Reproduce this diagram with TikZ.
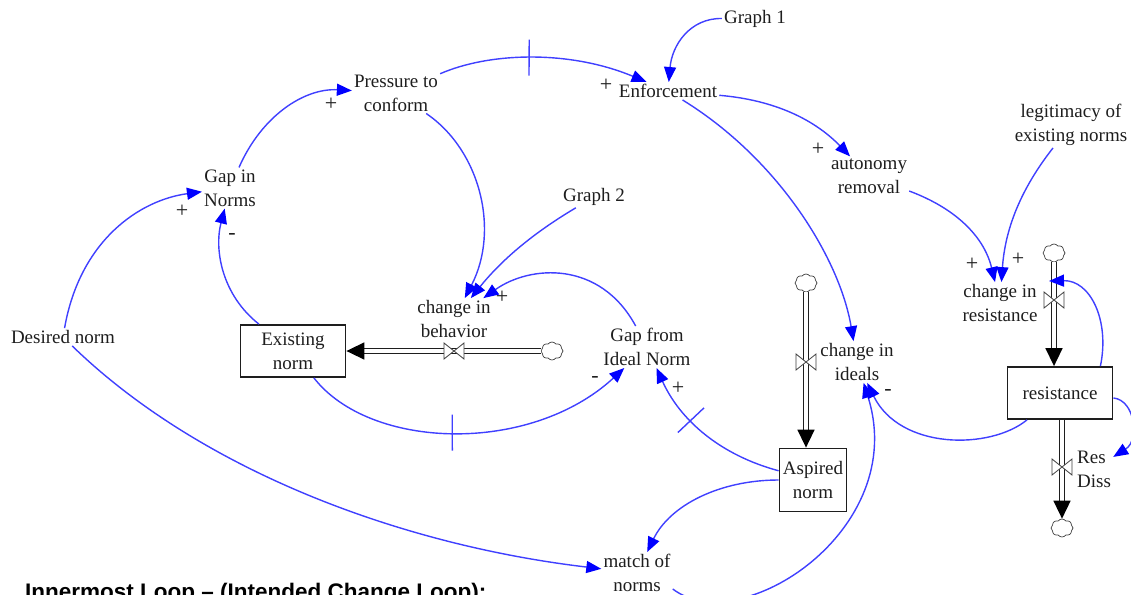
\documentclass[tikz,border=0pt]{standalone}
\usepackage{fontspec}
\setmainfont{Liberation Serif}
\newfontfamily\headfont{Liberation Sans}
\usetikzlibrary{arrows.meta,shapes.symbols,decorations.markings,calc}
\definecolor{lnk}{RGB}{64,64,255}
\definecolor{tipc}{RGB}{0,0,255}
\definecolor{ink}{RGB}{30,30,30}
\begin{document}
\begin{tikzpicture}[x=1pt,y=-1pt,
  var/.style={font=\fontsize{19}{24}\selectfont, text=ink, align=center, inner sep=2pt},
  stock/.style={var, draw=ink, line width=1.8pt, inner sep=0pt, fill=white},
  link/.style={draw=lnk, line width=1.4pt, -{Triangle[length=15pt,width=12pt,color=tipc]}},
  pol/.style={font=\fontsize{22}{22}\selectfont, text=ink, inner sep=0pt},
  pipe/.style={draw=ink, line width=1.6pt, double=white, double distance=3.6pt, -{Triangle[length=18pt,width=17pt,color=black]}},
  sink/.style={cloud, cloud puffs=8, cloud puff arc=110, aspect=1.2, draw=black!75, fill=white, line width=0.7pt, minimum width=22pt, minimum height=18pt, inner sep=0pt},
  valve/.pic={\draw[fill=white, draw=black!75, line width=0.8pt] (-10,-8) -- (10,8) -- (10,-8) -- (-10,8) -- cycle;},
  delay/.style={postaction={decorate, decoration={markings, mark=at position #1 with {\draw[lnk, line width=1.4pt, -] (0,-18) -- (0,18);}}}},
]
\useasboundingbox[fill=white] (0,0) rectangle (1131,594);

% variables
\node[var] (g1) at (755,19) {Graph 1};
\node[var] (press) at (396,93) {Pressure to\\conform};
\node[var] (enf) at (668,91) {Enforcement};
\node[var] (gapn) at (230,188) {Gap in\\Norms};
\node[var] (g2) at (594,197) {Graph 2};
\node[var] (auto) at (869,176) {autonomy\\removal};
\node[var] (legit) at (1071,125) {legitimacy of\\existing norms};
\node[var] (chb) at (454,319) {change in\\behavior};
\node[var] (des) at (63,337) {Desired norm};
\node[var] (gapi) at (647,347) {Gap from\\Ideal Norm};
\node[var] (chi) at (857,362) {change in\\ideals};
\node[var] (chr) at (1000,303) {change in\\resistance};
\node[var, align=left, anchor=west] (rd) at (1075,469) {Res\\Diss};
\node[var] (match) at (637,573) {match of\\norms};

% stocks
\node[stock, minimum width=105pt, minimum height=52pt] (exist) at (293,351) {Existing\\norm};
\node[stock, minimum width=105pt, minimum height=52pt] (res) at (1060,393) {resistance};
\node[stock, minimum width=67pt, minimum height=63pt] (asp) at (813,480) {Aspired\\norm};

% clouds
\node[sink] (cl1) at (552,351) {};
\node[sink] (cl2) at (806,283) {};
\node[sink] (cl3) at (1054,253) {};
\node[sink] (cl4) at (1062,528) {};

% pipes
\draw[pipe] (cl1) -- (exist);
\draw[pipe] (cl2) -- (cl2 |- asp.north);
\draw[pipe] (cl3) -- (cl3 |- res.north);
\draw[pipe] (cl4 |- res.south) -- (cl4);
\pic at (454,351) {valve};
\pic at (806,362) {valve};
\pic at (1054,300) {valve};
\pic at (1062,467) {valve};
\coordinate (v3in) at (1049,281);

% links
\draw[link] (gapn) .. controls (262,115) and (305,88) .. (press);
\draw[link, delay=0.43] (press) .. controls (490,52) and (570,50) .. (enf);
\draw[link] (g1) .. controls (690,18) and (672,45) .. (enf);
\draw[link] (enf) .. controls (775,100) and (815,120) .. (auto);
\draw[link] (enf) .. controls (780,160) and (840,260) .. (chi);
\draw[link] (press) .. controls (480,150) and (500,230) .. (chb);
\draw[link] (g2) .. controls (530,235) and (500,262) .. (chb);
\draw[link] (gapi) .. controls (600,260) and (530,265) .. (chb);
\draw[link] (exist) .. controls (222,295) and (214,250) .. (gapn);
\draw[link] (des) .. controls (80,240) and (140,200) .. (gapn);
\draw[link] (des) .. controls (200,470) and (400,545) .. (match);
\draw[link, delay=0.45] (exist) .. controls (370,450) and (530,455) .. (gapi);
\draw[link, delay=0.62] (asp) .. controls (720,455) and (680,420) .. (gapi);
\draw[link] (asp) .. controls (720,480) and (670,505) .. (match);
\draw[link] ([yshift=5pt]match.south east) .. controls (740,640) and (910,530) .. (chi);
\draw[link] (res) .. controls (990,450) and (900,450) .. (chi);
\draw[link] (auto) .. controls (960,210) and (985,240) .. (chr);
\draw[link] (legit) .. controls (1020,190) and (1005,230) .. (chr);
\draw[link] ([xshift=-13pt]res.north east) .. controls (1110,320) and (1090,280) .. (v3in);
\draw[link] (res) .. controls (1135,400) and (1140,440) .. (rd);

% polarities
\node[pol] (p1) at (331,104) {+};
\node[pol] (p2) at (606,85) {+};
\node[pol] (p3) at (818,149) {+};
\node[pol] (p4) at (502,297) {+};
\node[pol] (p5) at (232,236) {-};
\node[pol] (p6) at (182,211) {+};
\node[pol] (p7) at (595,379) {-};
\node[pol] (p8) at (678,388) {+};
\node[pol] (p9) at (888,392) {-};
\node[pol] (p10) at (972,264) {+};
\node[pol] (p11) at (1018,259) {+};

% caption (cut by the frame, as in the reference)
\node[anchor=base west, inner sep=0pt, font=\headfont\bfseries\fontsize{22.5}{24}\selectfont, text=black] (title) at (25,599) {Innermost Loop – (Intended Change Loop):};
\end{tikzpicture}
\end{document}
